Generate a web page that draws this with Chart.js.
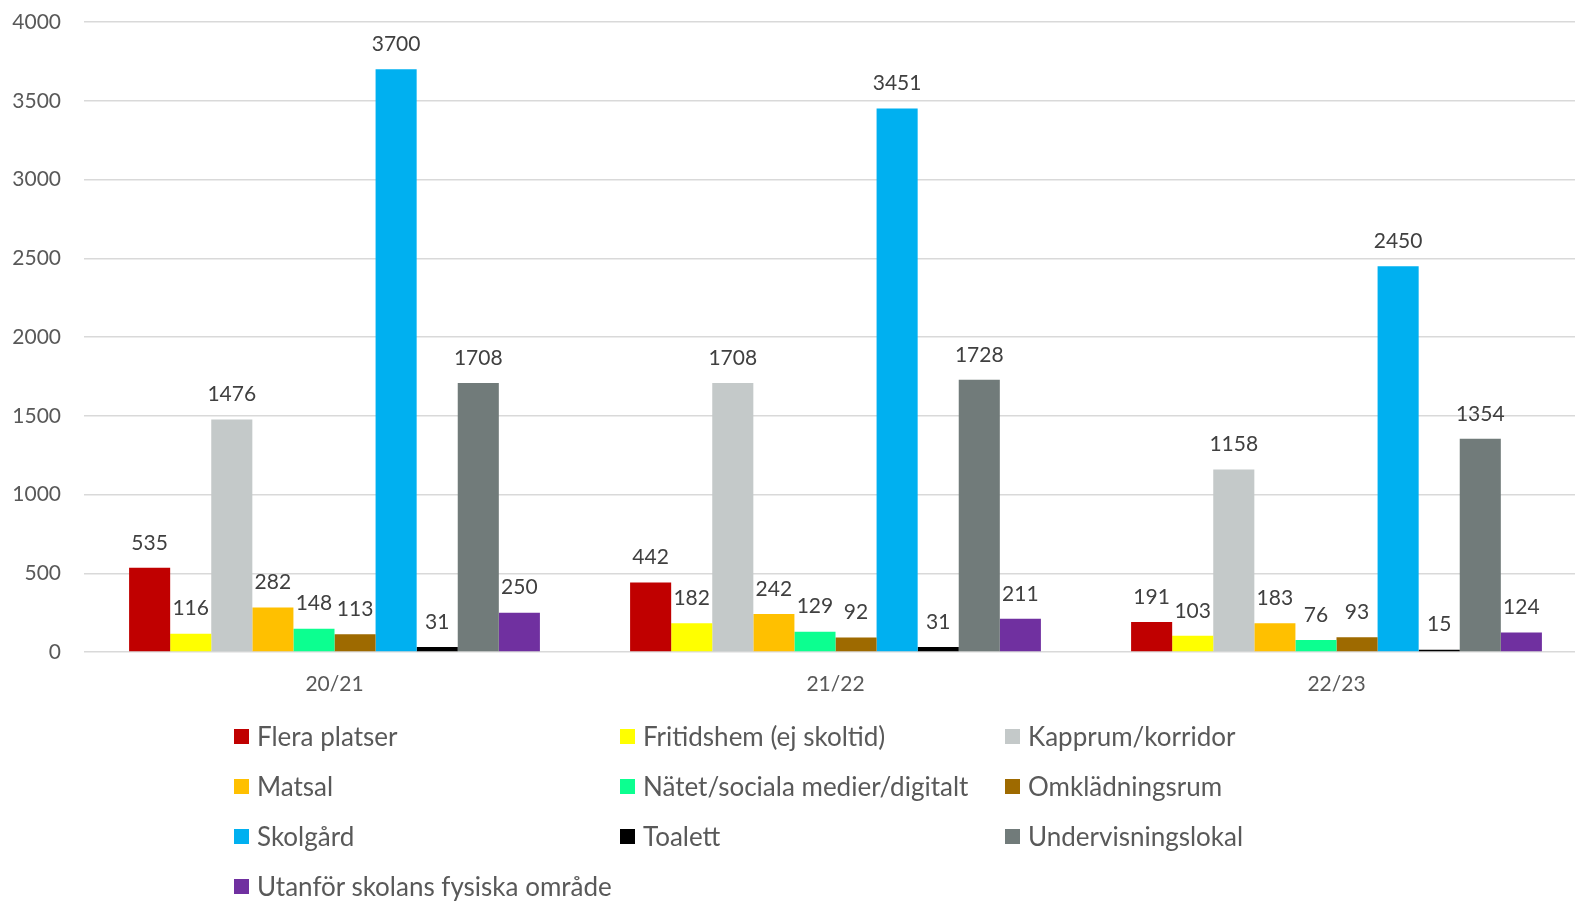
<!DOCTYPE html>
<html>
<head>
<meta charset="utf-8">
<script src="https://cdn.jsdelivr.net/npm/chart.js@4.4.0/dist/chart.umd.min.js"></script>
<style>
  html,body{margin:0;padding:0;background:#fff;overflow:hidden;}
  #wrap{position:relative;width:1575px;height:901px;overflow:hidden;}
  #chart{position:absolute;left:0;top:0;}
  #legend{position:absolute;left:234px;top:711px;display:grid;grid-template-columns:386px 385px 300px;grid-auto-rows:50px;
    font-family:Lato,"Open Sans",sans-serif;font-size:26px;color:#595959;}
  #legend .it{display:flex;align-items:center;white-space:nowrap;}
  #legend .sw{width:15px;height:15px;margin-right:8px;flex:none;}
</style>
</head>
<body>
<div id="wrap">
  <canvas id="chart" width="1590" height="901"></canvas>
  <div id="legend"></div>
</div>
<script>
/* Anmälda kränkningar per plats och läsår */
const categories = ['20/21','21/22','22/23'];
const seriesNames = ['Flera platser','Fritidshem (ej skoltid)','Kapprum/korridor','Matsal','Nätet/sociala medier/digitalt','Omklädningsrum','Skolgård','Toalett','Undervisningslokal','Utanför skolans fysiska område'];
const seriesColors = ['#C00000','#FFFF00','#C4C9C9','#FFC000','#0CFF90','#9E6A00','#00B0F0','#000000','#717B7A','#7030A0'];
const fleraPlatser   = [535, 442, 191];
const fritidshem     = [116, 182, 103];
const kapprum        = [1476, 1708, 1158];
const matsal         = [282, 242, 183];
const natet          = [148, 129, 76];
const omkladning     = [113, 92, 93];
const skolgard       = [3700, 3451, 2450];
const toalett        = [31, 31, 15];
const undervisning   = [1708, 1728, 1354];
const utanfor        = [250, 211, 124];
const seriesValues = [fleraPlatser, fritidshem, kapprum, matsal, natet, omkladning, skolgard, toalett, undervisning, utanfor];
const yTicks = [0,500,1000,1500,2000,2500,3000,3500,4000];

const FONT = 'Lato, "Open Sans", sans-serif';

// etiketter ovanför staplarna
const valueLabels = {
  id:'valueLabels',
  afterDatasetsDraw(chart){
    const ctx = chart.ctx;
    ctx.save();
    ctx.font = '21px ' + FONT;
    ctx.fillStyle = '#404040';
    ctx.textAlign = 'center';
    ctx.textBaseline = 'middle';
    chart.data.datasets.forEach((ds,i)=>{
      chart.getDatasetMeta(i).data.forEach((bar,j)=>{
        ctx.fillText(String(ds.data[j]), bar.x, bar.y - 25);
      });
    });
    ctx.restore();
  }
};

new Chart(document.getElementById('chart'), {
  type:'bar',
  data:{
    labels: categories,
    datasets: seriesNames.map((name,i)=>({
      label:name, data:seriesValues[i], backgroundColor:seriesColors[i],
      borderWidth:0, barPercentage:1, categoryPercentage:0.82
    }))
  },
  options:{
    responsive:false, animation:false,
    layout:{ padding:{ left:0, right:3, top:22, bottom:199 } },
    plugins:{ legend:{ display:false }, tooltip:{ enabled:false } },
    scales:{
      x:{
        grid:{ display:false, drawTicks:false },
        border:{ display:false },
        ticks:{ font:{ family:FONT, size:21 }, color:'#595959', padding:20 },
        afterFit(s){ s.height = 50; s.paddingLeft = 0; s.paddingRight = 0; }
      },
      y:{
        min:0, max:4000,
        afterBuildTicks(s){ s.ticks = yTicks.map(v=>({value:v})); },
        grid:{ color:'#d9d9d9', lineWidth:1.5, drawTicks:false },
        border:{ display:false },
        ticks:{ font:{ family:FONT, size:21 }, color:'#595959', padding:23, callback:(v)=>String(v) },
        afterFit(s){ s.width = 84; s.paddingTop = 0; s.paddingBottom = 0; }
      }
    }
  },
  plugins:[valueLabels]
});

// förklaring i tre kolumner
const legend = document.getElementById('legend');
seriesNames.forEach((name,i)=>{
  const it = document.createElement('div');
  it.className = 'it';
  it.innerHTML = `<span class="sw" style="background:${seriesColors[i]}"></span><span>${name}</span>`;
  legend.appendChild(it);
});
</script>
</body>
</html>
